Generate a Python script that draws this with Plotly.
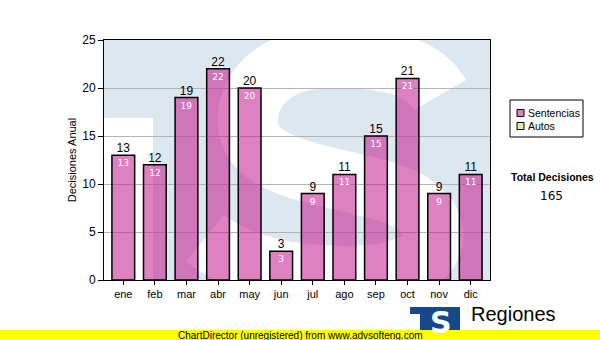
import base64
import re
import plotly.graph_objects as go

months = ["ene", "feb", "mar", "abr", "may", "jun", "jul", "ago", "sep", "oct", "nov", "dic"]
sentencias = [13, 12, 19, 22, 20, 3, 9, 11, 15, 21, 9, 11]
autos = [None] * 12
y_ticks = [0, 5, 10, 15, 20, 25]
total = sum(sentencias)
series_names = ["Sentencias", "Autos"]
series_colors = ["rgba(198,28,143,0.56)", "#d8f0a0"]

# plot area in pixels
L, T, W, H = 104, 40, 386, 240

def px(x):
    return (x - L) / W

def py(y):
    return (T + H - y) / H

# watermark background (light blue with a white "S")
pts = "M 440 95 C 420 60, 370 58, 330 58 C 280 58, 245 85, 248 125 C 252 170, 330 175, 380 190 C 420 200, 445 225, 428 252 C 410 275, 360 278, 320 275 C 270 272, 230 258, 205 238"
_i = [0]
def shift(m):
    v = float(m.group(0))
    r = v - (L if _i[0] % 2 == 0 else T)
    _i[0] += 1
    return f"{r:g}"
rel = re.sub(r"[-\d.]+", shift, pts)
svg = f'''<svg xmlns="http://www.w3.org/2000/svg" width="{W}" height="{H}" viewBox="0 0 {W} {H}">
<rect x="0" y="0" width="{W}" height="{H}" fill="#dde7f0"/>
<rect x="0" y="78" width="49" height="{H}" fill="#ffffff"/>
<path d="{rel}" fill="none" stroke="#ffffff" stroke-width="60" stroke-linecap="butt"/>
</svg>'''
src = "data:image/svg+xml;base64," + base64.b64encode(svg.encode()).decode()

fig = go.Figure()
fig.add_trace(go.Bar(
    x=months, y=sentencias, name=series_names[0],
    marker=dict(color=series_colors[0], line=dict(color="black", width=1.5)),
    width=0.72,
    text=sentencias, texttemplate="%{text}", textposition="inside",
    insidetextanchor="end", textangle=0,
    textfont=dict(color="white", size=9, family="DejaVu Sans"),
    hoverinfo="skip", showlegend=False,
))
fig.add_trace(go.Bar(
    x=months, y=autos, name=series_names[1], showlegend=False,
    marker=dict(color=series_colors[1], line=dict(color="black", width=1.5)),
))
fig.add_trace(go.Scatter(
    x=months, y=sentencias, mode="text", text=[str(v) for v in sentencias],
    textposition="top center", showlegend=False, cliponaxis=False,
    textfont=dict(color="black", size=12, family="Liberation Sans"),
))

shapes = [
    # legend box
    dict(type="rect", xref="paper", yref="paper", x0=px(510), x1=px(583),
         y0=py(137), y1=py(100), fillcolor="white", line=dict(color="black", width=1)),
    # logo
    dict(type="rect", xref="paper", yref="paper", x0=px(410), x1=px(460),
         y0=py(330), y1=py(307), fillcolor="#15498c", line=dict(width=0)),
    dict(type="rect", xref="paper", yref="paper", x0=px(410), x1=px(420),
         y0=py(330), y1=py(314), fillcolor="white", line=dict(width=0)),
    # yellow band
    dict(type="rect", xref="paper", yref="paper", x0=px(0), x1=px(600),
         y0=py(340), y1=py(330), fillcolor="#ffff00", line=dict(width=0)),
]
annotations = []
for k, (nm, col) in enumerate(zip(series_names, series_colors)):
    yc = 113 + 13 * k
    shapes.append(dict(type="rect", xref="paper", yref="paper",
                       x0=px(517), x1=px(524), y0=py(yc + 3.5), y1=py(yc - 3.5),
                       fillcolor=col if k else "#df80c0", line=dict(color="black", width=1)))
    annotations.append(dict(text=nm, xref="paper", yref="paper", x=px(526), y=py(yc),
                            xanchor="left", yanchor="middle", showarrow=False,
                            font=dict(family="Liberation Sans", size=10.5, color="black")))

annotations += [
    dict(text="<b>Total Decisiones</b>", xref="paper", yref="paper",
         x=px(552), y=py(177), xanchor="center", yanchor="middle", showarrow=False,
         font=dict(family="Liberation Sans", size=10.5, color="black")),
    dict(text=str(total), xref="paper", yref="paper",
         x=px(551), y=py(196), xanchor="center", yanchor="middle", showarrow=False,
         font=dict(family="DejaVu Sans", size=12, color="black")),
    dict(text="<b>S</b>", xref="paper", yref="paper",
         x=px(441), y=py(322), xanchor="center", yanchor="middle", showarrow=False,
         font=dict(family="DejaVu Sans", size=30, color="white")),
    dict(text="Regiones", xref="paper", yref="paper",
         x=px(469), y=py(314), xanchor="left", yanchor="middle", showarrow=False,
         font=dict(family="Liberation Sans", size=20, color="black")),
    dict(text="ChartDirector (unregistered) from www.advsofteng.com",
         xref="paper", yref="paper", x=px(300), y=py(335), xanchor="center",
         yanchor="middle", showarrow=False,
         font=dict(family="Liberation Sans", size=10, color="black")),
]

fig.update_layout(
    width=600, height=340,
    margin=dict(l=L, r=600 - L - W, t=T, b=340 - T - H, autoexpand=False),
    paper_bgcolor="white", plot_bgcolor="#dde7f0",
    barmode="overlay",
    font=dict(family="Liberation Sans", size=11, color="black"),
    showlegend=False,
    xaxis=dict(
        showline=True, linecolor="black", linewidth=1, mirror=True,
        ticks="outside", ticklen=4, tickcolor="black",
        tickfont=dict(size=11), showgrid=False,
    ),
    yaxis=dict(
        range=[0, 25], tickvals=y_ticks, ticktext=[str(v) for v in y_ticks],
        showline=True, linecolor="black", linewidth=1, mirror=True,
        ticks="outside", ticklen=5, tickcolor="black",
        tickfont=dict(size=12), showgrid=True, gridcolor="#b4b4b4", gridwidth=1,
        zeroline=False,
        title=dict(text="Decisiones Anual", font=dict(size=11), standoff=3),
    ),
    images=[dict(source=src, xref="paper", yref="paper", x=0, y=1,
                 sizex=1, sizey=1, sizing="stretch", layer="below",
                 xanchor="left", yanchor="top")],
    shapes=shapes,
    annotations=annotations,
)

fig.write_html("out.html", config={"displayModeBar": False},
               post_script="document.body.style.margin='0px';")
